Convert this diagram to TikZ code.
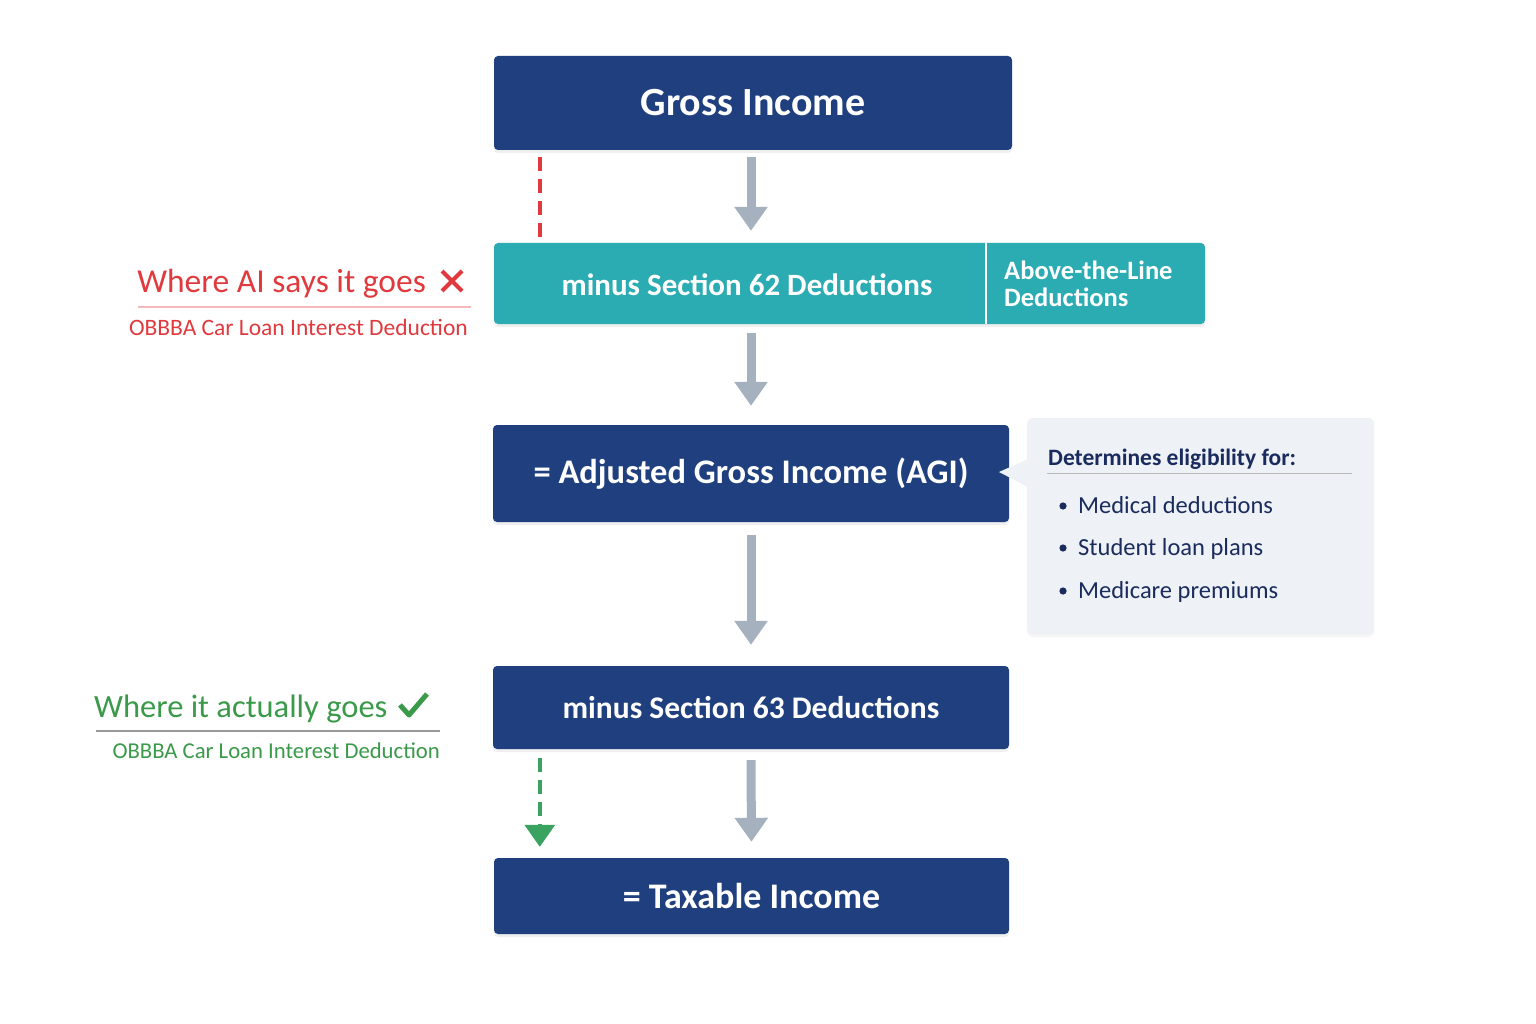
\documentclass[tikz,border=0pt]{standalone}
\usepackage{fontspec}
\setmainfont{Carlito}
\usetikzlibrary{arrows.meta,calc,shadows}
\definecolor{navy}{HTML}{1F3F7F}
\definecolor{tealc}{HTML}{2BABB2}
\definecolor{arrowgray}{HTML}{A5B1BE}
\definecolor{redc}{HTML}{E03A3E}
\definecolor{greenc}{HTML}{3A9A4A}
\definecolor{greenarrow}{HTML}{3AA35F}
\definecolor{calloutbg}{HTML}{EEF1F5}
\definecolor{darknavy}{HTML}{1A2B5E}
\begin{document}
\begin{tikzpicture}[x=1pt,y=-1pt,
  navybox/.style={fill=navy, rounded corners=4pt, text=white, font=\bfseries\fontsize{30}{34}\selectfont, inner sep=0pt,
    drop shadow={opacity=0.12, shadow xshift=0pt, shadow yshift=-3pt}},
  textonly/.style={inner sep=0pt},
  grayarrow/.style={draw=arrowgray, line width=9pt, -{Triangle[width=32pt,length=24pt]}},
  reddash/.style={draw=redc, line width=3.5pt, dash pattern=on 14pt off 8pt},
  greendash/.style={draw=greenarrow, line width=3.5pt, dash pattern=on 14pt off 8pt, -{Triangle[width=30pt,length=22pt]}},
]
\useasboundingbox[fill=white] (0,0) rectangle (1536,1024);

% boxes
\node[navybox, minimum width=518pt, minimum height=94pt, font=\bfseries\fontsize{40}{44}\selectfont] (gross) at (753,103) {Gross Income};

\fill[tealc, rounded corners=4pt, drop shadow={opacity=0.12, shadow xshift=0pt, shadow yshift=-3pt}] (494,243) rectangle (1205,324);
\node[textonly, minimum width=492pt, minimum height=81pt] (sec62) at (740,283.5) {};
\node[textonly, text=white, font=\bfseries\fontsize{31}{34}\selectfont] (sec62text) at (747,285) {minus Section 62 Deductions};
\node[textonly, minimum width=219pt, minimum height=81pt] (atl) at (1095.5,283.5) {};
\draw[white, line width=2pt] (sec62.north east) -- (sec62.south east);
\node[textonly, anchor=west, align=left, text=white, font=\bfseries\fontsize{26.5}{27}\selectfont] (atltext) at (1004,284) {Above-the-Line\\Deductions};

\node[navybox, minimum width=516pt, minimum height=97pt, font=\bfseries\fontsize{34.5}{38}\selectfont] (agi) at (751,473.5) {\makebox[434pt]{= Adjusted Gross Income (AGI)}};
\node[navybox, minimum width=516pt, minimum height=83pt, font=\bfseries\fontsize{31.5}{35}\selectfont] (sec63) at (751,707.5) {minus Section 63 Deductions};
\node[navybox, minimum width=515pt, minimum height=76pt, font=\bfseries\fontsize{36}{40}\selectfont] (taxable) at (751.5,896) {= Taxable Income};

% callout
\fill[calloutbg, rounded corners=6pt, drop shadow={opacity=0.08, shadow xshift=0pt, shadow yshift=-3pt}] (1027,418) rectangle (1374,634);
\node[textonly, minimum width=347pt, minimum height=216pt] (callout) at (1200.5,526) {};
\fill[calloutbg] (999,472) -- (1028,459) -- (1028,487) -- cycle;
\node[textonly, anchor=base west, text=darknavy, font=\bfseries\fontsize{23.5}{26}\selectfont] (ctitle) at (1048,465) {Determines eligibility for:};
\draw[gray!55, line width=1pt] (1047,473.5) -- (1352,473.5);
\foreach \yy/\txt/\nm in {513/Medical deductions/b1, 555/Student loan plans/b2, 598/Medicare premiums/b3}{
  \fill[darknavy] (1063,\yy-7) circle (3.6pt);
  \node[textonly, anchor=base west, text=darknavy, font=\fontsize{24.5}{28}\selectfont] (\nm) at (1078,\yy) {\txt};
}

% gray arrows
\draw[grayarrow, shorten <=7pt, shorten >=12pt] (agi.north |- gross.south) -- (agi.north |- sec62.north);
\draw[grayarrow, shorten <=9pt, shorten >=19pt] (agi.north |- sec62.south) -- (agi.north);
\draw[grayarrow, shorten <=13pt, shorten >=21pt] (agi.south) -- (sec63.north);
\draw[grayarrow, shorten <=11pt, shorten >=16pt] (sec63.south) -- (taxable.north);

% red dashed
\coordinate (rd1) at ($(gross.south west)+(46,7)$);
\draw[reddash] (rd1) -- ($(rd1 |- sec62.north)+(0,-5)$);

% green dashed
\coordinate (gd1) at ($(sec63.south west)+(47,9)$);
\draw[greendash, shorten >=11pt] (gd1) -- (gd1 |- taxable.north);

% red label
\node[textonly, anchor=base east, text=redc, font=\fontsize{33.5}{38}\selectfont] (ailabel) at (426,293) {Where AI says it goes};
\draw[redc, line width=4pt] (442,271) -- (462,291) (462,271) -- (442,291);
\draw[redc!35, line width=1.5pt] (138,307) -- (471,307);
\node[textonly, anchor=base east, text=redc, font=\fontsize{23.5}{27}\selectfont] (aisub) at (468,335) {OBBBA Car Loan Interest Deduction};

% green label
\node[textonly, anchor=base west, text=greenc, font=\fontsize{32.5}{36}\selectfont] (actlabel) at (94,717) {Where it actually goes};
\draw[greenc, line width=5pt, line join=round] (400,705) -- (409,715) -- (427,694);
\draw[gray!80, line width=1.5pt] (96,731) -- (440,731);
\node[textonly, anchor=base east, text=greenc, font=\fontsize{22.7}{26}\selectfont] (actsub) at (440,758) {OBBBA Car Loan Interest Deduction};
\end{tikzpicture}
\end{document}
